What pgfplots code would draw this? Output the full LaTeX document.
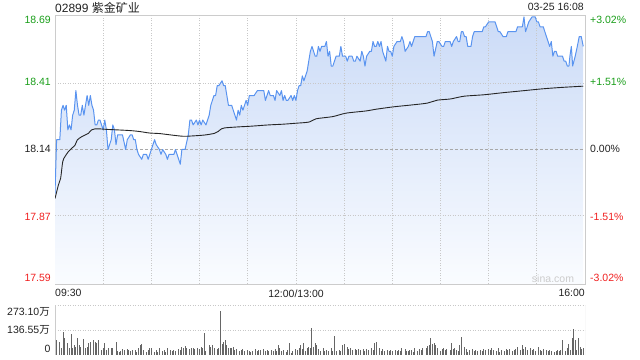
\documentclass[border=0pt]{standalone}
\usepackage{pgfplots}
\pgfplotsset{compat=1.18}
\usepackage{pgfplotstable}
\usepackage{fontspec}
\setmainfont{Liberation Sans}
\newfontfamily\cjk{Noto Sans CJK SC}
\definecolor{pline}{HTML}{5A94F0}
\definecolor{pfilltop}{HTML}{CBDBF7}
\definecolor{pfillbot}{HTML}{FAFCFF}
\definecolor{framec}{HTML}{CCCCCC}
\definecolor{gridc}{HTML}{C8C8C8}
\definecolor{zeroc}{HTML}{A8A8A8}
\definecolor{upg}{HTML}{1A9E1A}
\definecolor{dnr}{HTML}{F02020}
\definecolor{volc}{HTML}{666666}
\definecolor{txt}{HTML}{222222}

% price series; first and last rows (17.592) close the area to the axis bottom
\pgfplotstableread{
m p
0 17.592
0 17.96
1 18.18
3 18.18
4 18.30
5 18.32
6 18.30
7 18.32
8 18.22
9 18.24
10 18.22
11 18.28
12 18.30
13 18.38
14 18.32
15 18.28
16 18.28
17 18.32
18 18.28
20 18.36
21 18.32
22 18.36
23 18.32
24 18.30
25 18.24
26 18.24
27 18.26
28 18.26
29 18.24
30 18.22
31 18.26
32 18.22
33 18.14
35 18.18
36 18.24
37 18.22
38 18.16
39 18.20
40 18.20
41 18.20
42 18.20
44 18.14
45 18.18
47 18.20
48 18.20
49 18.18
50 18.18
51 18.14
52 18.12
54 18.10
55 18.12
56 18.12
57 18.12
58 18.10
60 18.14
61 18.16
62 18.18
63 18.16
65 18.14
66 18.12
67 18.14
69 18.12
70 18.10
71 18.12
72 18.12
74 18.12
75 18.14
76 18.12
77 18.10
78 18.08
79 18.14
80 18.14
81 18.14
83 18.20
84 18.26
85 18.26
86 18.24
88 18.26
89 18.24
90 18.26
91 18.24
92 18.26
94 18.24
95 18.26
96 18.28
97 18.32
99 18.36
100 18.36
101 18.40
102 18.40
104 18.42
105 18.40
106 18.40
107 18.36
108 18.32
110 18.32
111 18.30
112 18.28
113 18.26
114 18.30
115 18.28
116 18.32
117 18.30
118 18.32
119 18.34
120 18.32
121 18.36
122 18.36
124 18.36
126 18.38
128 18.38
130 18.38
131 18.34
133 18.38
134 18.36
135 18.36
136 18.36
137 18.34
138 18.38
140 18.36
141 18.38
142 18.34
143 18.36
144 18.34
145 18.34
147 18.36
148 18.34
149 18.36
150 18.34
151 18.38
152 18.40
153 18.40
154 18.44
155 18.42
156 18.44
157 18.46
158 18.50
159 18.54
160 18.56
162 18.52
163 18.52
164 18.56
165 18.54
166 18.56
167 18.56
168 18.56
169 18.58
170 18.52
171 18.54
172 18.48
173 18.48
174 18.50
175 18.52
176 18.52
177 18.52
178 18.56
179 18.52
181 18.52
182 18.50
183 18.52
184 18.52
185 18.52
186 18.50
187 18.50
188 18.52
190 18.50
191 18.54
192 18.52
193 18.48
194 18.52
196 18.54
197 18.54
198 18.58
199 18.56
200 18.56
201 18.58
202 18.56
203 18.58
204 18.54
205 18.52
206 18.50
207 18.56
208 18.54
209 18.54
210 18.52
211 18.56
213 18.58
214 18.58
215 18.58
216 18.60
217 18.58
218 18.54
220 18.56
221 18.58
222 18.56
223 18.58
224 18.60
226 18.60
230 18.60
231 18.60
232 18.62
233 18.62
234 18.60
235 18.58
236 18.52
238 18.58
239 18.58
241 18.56
242 18.56
243 18.58
245 18.58
246 18.58
247 18.56
248 18.58
250 18.60
251 18.58
252 18.58
253 18.62
254 18.62
255 18.60
256 18.60
257 18.56
259 18.56
260 18.60
261 18.62
263 18.62
265 18.62
266 18.62
267 18.64
268 18.64
270 18.66
272 18.66
274 18.66
275 18.64
276 18.62
277 18.62
279 18.60
280 18.60
281 18.60
282 18.62
283 18.62
287 18.62
288 18.64
290 18.64
291 18.64
292 18.68
293 18.62
294 18.64
295 18.66
297 18.68
298 18.68
299 18.68
300 18.66
301 18.66
302 18.64
304 18.64
305 18.62
306 18.60
307 18.58
308 18.56
309 18.58
310 18.52
311 18.54
312 18.54
313 18.52
315 18.52
316 18.52
317 18.50
318 18.50
319 18.48
320 18.48
320.6 18.52
321.5 18.56
322.3 18.48
323.1 18.50
323.9 18.52
325.2 18.56
326.4 18.60
327.7 18.60
328.9 18.56
328.9 17.592
}\price

\pgfplotstableread{
m a
0 17.94
2.1 17.995
3.5 18.022
4.8 18.09
6.2 18.111
8.3 18.131
10.4 18.145
12.5 18.158
13.9 18.179
16.6 18.192
18.7 18.199
20.8 18.206
22.8 18.22
24.9 18.224
28 18.224
32.2 18.222
38.4 18.22
44.6 18.218
48.8 18.216
52.9 18.213
59.1 18.207
65 18.205
72.4 18.199
79.7 18.194
84.9 18.195
93.2 18.199
99.4 18.206
101.5 18.213
103.6 18.224
105.6 18.228
113.9 18.232
122.2 18.235
132.6 18.24
141.7 18.243
150 18.247
158.3 18.252
162.5 18.265
172.9 18.274
181.2 18.288
193.6 18.297
199.8 18.304
211 18.314
221.4 18.321
231.8 18.329
238 18.341
246.3 18.346
254.6 18.357
267.1 18.363
278.3 18.371
290.8 18.379
303.2 18.387
315.6 18.393
328.9 18.398
}\avgline

\pgfplotstableread{
m v
0 273.1
1 82
3 73
4 36
5 127
6 91
8 64
9 36
10 113
11 36
12 55
13 45
14 91
15 55
16 45
18 87
19 36
20 45
21 64
22 73
24 82
25 73
26 64
27 82
29 27
30 36
31 64
32 27
33 36
35 36
36 36
38 69
39 22
40 18
41 22
42 33
43 27
45 33
46 27
47 22
48 27
50 27
51 18
52 40
53 55
54 58
55 27
57 18
58 27
59 36
60 40
62 18
63 27
64 18
65 36
67 22
68 27
69 18
70 36
72 27
73 22
74 27
75 22
77 33
78 27
79 45
80 40
81 51
82 36
84 33
85 40
86 36
87 33
89 40
90 33
91 45
92 40
93 118
94 22
96 55
97 45
98 55
99 36
101 33
102 36
103 240
104 58
105 73
106 82
107 55
108 36
109 40
110 36
111 45
112 27
113 33
115 22
116 27
117 33
118 22
120 27
121 22
122 18
123 22
125 33
126 22
127 27
128 27
130 33
131 22
132 27
133 22
135 27
136 22
137 33
138 22
139 55
140 36
141 22
142 27
144 18
145 27
146 64
147 9
148 22
150 33
151 27
152 40
153 55
154 33
155 64
156 22
157 40
158 45
159 36
160 146
161 45
162 64
163 55
164 33
165 22
167 36
168 22
169 27
170 22
172 40
173 22
174 106
175 22
177 27
178 22
179 55
180 58
182 45
183 33
184 36
185 27
187 33
188 27
189 33
190 27
192 33
193 22
194 33
195 27
197 40
198 27
199 64
200 73
202 36
203 22
204 33
205 22
207 27
208 22
209 27
210 22
212 27
213 22
214 27
215 22
216 40
218 33
219 22
220 22
221 27
222 27
223 18
224 36
226 22
227 33
228 27
229 36
231 40
232 51
233 55
234 95
235 58
236 64
237 55
238 40
240 22
241 33
242 40
243 27
244 33
246 27
247 64
248 33
249 40
250 27
251 22
252 55
253 100
255 45
256 33
257 18
258 27
260 33
261 22
262 27
263 22
265 27
266 22
267 33
268 27
270 33
271 27
272 36
273 27
275 22
276 36
277 18
278 27
280 22
281 33
282 27
283 33
285 22
286 27
287 33
288 45
290 27
291 55
292 33
293 45
294 27
296 40
297 27
298 33
299 22
301 45
302 27
303 22
304 33
306 27
307 22
308 27
309 22
311 18
312 22
313 27
314 22
315 27
316 82
318 22
319 36
320 58
321 27
322 91
323 140
324 82
325 27
326 91
327 45
328 33
329 36
}\volume

\begin{document}
\begin{tikzpicture}[every node/.style={font=\fontsize{10.5bp}{12bp}\selectfont, inner sep=0pt, text=txt}]
\path[use as bounding box] (0,0) rectangle (640bp,360bp);

\begin{axis}[
  at={(55bp,76bp)}, anchor=south west,
  scale only axis, width=530bp, height=269bp,
  xmin=0, xmax=330, ymin=17.592, ymax=18.688,
  ticks=none,
  axis line style={framec, line width=0.9bp},
]
% area under the price line
\addplot[draw=none, top color=pfilltop, bottom color=pfillbot] table[x=m, y=p] {\price};
% grid lines drawn over the area
\draw[gridc, line width=0.8bp, dash pattern=on 1bp off 1.5bp] (axis cs:30,17.592) -- (axis cs:30,18.688);
\draw[gridc, line width=0.8bp, dash pattern=on 1bp off 1.5bp] (axis cs:60,17.592) -- (axis cs:60,18.688);
\draw[gridc, line width=0.8bp, dash pattern=on 1bp off 1.5bp] (axis cs:90,17.592) -- (axis cs:90,18.688);
\draw[gridc, line width=0.8bp, dash pattern=on 1bp off 1.5bp] (axis cs:120,17.592) -- (axis cs:120,18.688);
\draw[gridc, line width=0.8bp, dash pattern=on 1bp off 1.5bp] (axis cs:150,17.592) -- (axis cs:150,18.688);
\draw[gridc, line width=0.8bp, dash pattern=on 1bp off 1.5bp] (axis cs:180,17.592) -- (axis cs:180,18.688);
\draw[gridc, line width=0.8bp, dash pattern=on 1bp off 1.5bp] (axis cs:210,17.592) -- (axis cs:210,18.688);
\draw[gridc, line width=0.8bp, dash pattern=on 1bp off 1.5bp] (axis cs:240,17.592) -- (axis cs:240,18.688);
\draw[gridc, line width=0.8bp, dash pattern=on 1bp off 1.5bp] (axis cs:270,17.592) -- (axis cs:270,18.688);
\draw[gridc, line width=0.8bp, dash pattern=on 1bp off 1.5bp] (axis cs:300,17.592) -- (axis cs:300,18.688);
\draw[gridc, line width=0.8bp, dash pattern=on 1bp off 1.5bp] (axis cs:0,18.41) -- (axis cs:330,18.41);
\draw[gridc, line width=0.8bp, dash pattern=on 1bp off 1.5bp] (axis cs:0,17.87) -- (axis cs:330,17.87);
\draw[zeroc, line width=0.8bp, dash pattern=on 3bp off 2bp] (axis cs:0,18.14) -- (axis cs:330,18.14);
% price and average lines
\addplot[pline, line width=1bp, line join=round, restrict y to domain=17.6:18.7] table[x=m, y=p] {\price};
\addplot[black!85, line width=0.9bp, smooth] table[x=m, y=a] {\avgline};
\end{axis}

\begin{axis}[
  at={(55bp,5bp)}, anchor=south west,
  scale only axis, width=530bp, height=50bp,
  xmin=0, xmax=330, ymin=0, ymax=273.1,
  axis line style={draw=none}, ticks=none,
]
\draw[gridc, line width=0.8bp, dash pattern=on 1bp off 1.5bp] (rel axis cs:0,1) -- (rel axis cs:1,1);
\draw[gridc, line width=0.8bp, dash pattern=on 1bp off 1.5bp] (rel axis cs:0,0.5) -- (rel axis cs:1,0.5);
\addplot[ycomb, volc, line width=1bp] table[x=m, y=v] {\volume};
\draw[framec, line width=0.9bp] (rel axis cs:0,1) -- (rel axis cs:0,0) -- (rel axis cs:1,0) -- (rel axis cs:1,1);
\end{axis}

% title texts
\node[anchor=west, font=\fontsize{12bp}{14bp}\selectfont] at (55bp,352.5bp) {02899 {\cjk 紫金矿业}};
\node[anchor=east] at (584bp,352.7bp) {03-25 16:08};

% left price labels
\node[anchor=east, text=upg] at (51bp,340bp) {18.69};
\node[anchor=east, text=upg] at (51bp,278bp) {18.41};
\node[anchor=east] at (51bp,210.7bp) {18.14};
\node[anchor=east, text=dnr] at (51bp,143.3bp) {17.87};
\node[anchor=east, text=dnr] at (51bp,82bp) {17.59};

% right percentage labels
\node[anchor=west, text=upg] at (590bp,340bp) {+3.02\%};
\node[anchor=west, text=upg] at (590bp,278bp) {+1.51\%};
\node[anchor=west] at (590bp,210.7bp) {0.00\%};
\node[anchor=west, text=dnr] at (590bp,143.3bp) {-1.51\%};
\node[anchor=west, text=dnr] at (590bp,82bp) {-3.02\%};

% time labels
\node[anchor=west] at (55bp,66.7bp) {09:30};
\node[anchor=center] at (296bp,66.7bp) {12:00/13:00};
\node[anchor=east] at (585bp,66.7bp) {16:00};

% volume labels
\node[anchor=east] at (50bp,48.3bp) {273.10{\cjk 万}};
\node[anchor=east] at (50bp,30bp) {136.55{\cjk 万}};
\node[anchor=east] at (50.7bp,11bp) {0};

% watermark
\node[text=black!20] at (553bp,81bp) {sina.com};
\end{tikzpicture}
\end{document}
